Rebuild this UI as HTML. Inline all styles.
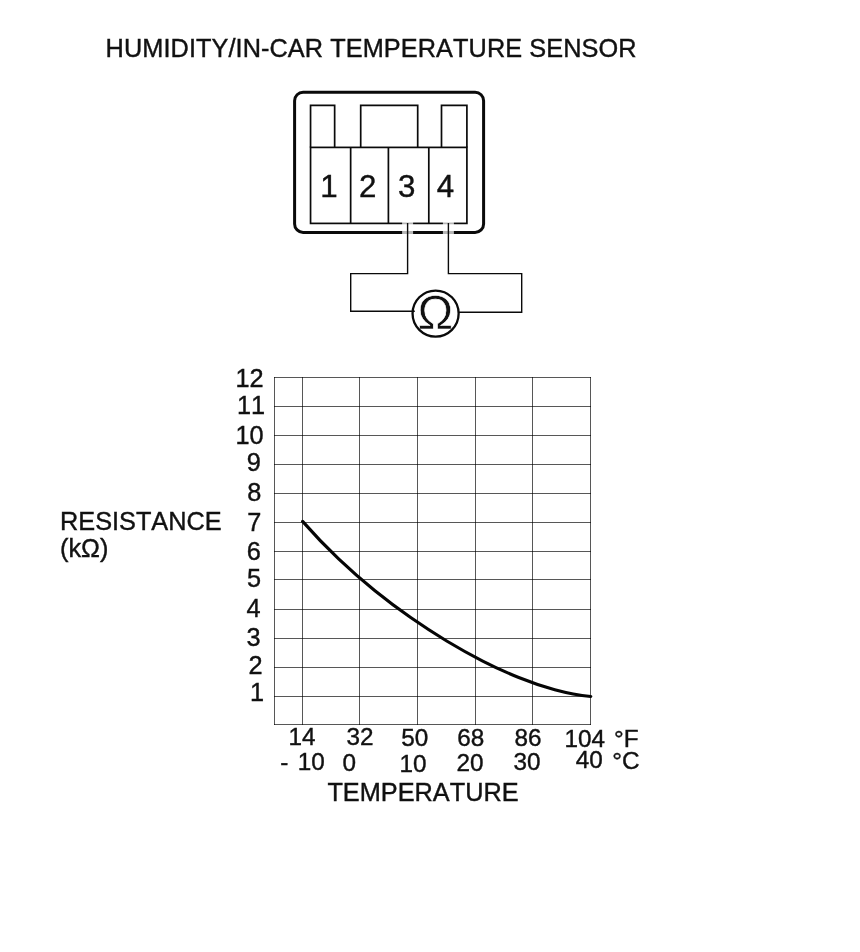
<!DOCTYPE html>
<html lang="en">
<head>
<meta charset="utf-8">
<title>Humidity/In-Car Temperature Sensor</title>
<style>
html,body{margin:0;padding:0;background:#fff;}
body{width:860px;height:952px;overflow:hidden;}
svg{display:block;}
text{font-family:"Liberation Sans",sans-serif;fill:#111;stroke:#111;stroke-width:0.4px;font-kerning:none;font-variant-ligatures:none;}
.t{font-size:25.3px;}
.g line{stroke:#000;stroke-opacity:0.66;stroke-width:1;}
</style>
</head>
<body>
<svg width="860" height="952" viewBox="0 0 860 952">
<rect width="860" height="952" fill="#fff"/>

<!-- Title -->
<text class="t" x="105.6" y="56.7" style="letter-spacing:0.075px">HUMIDITY/IN-CAR TEMPERATURE SENSOR</text>

<!-- Connector -->
<g fill="none" stroke="#0a0a0a">
  <rect x="294.6" y="92.3" width="189" height="140.1" rx="8.5" ry="8.5" stroke-width="3"/>
  <g stroke-width="1.7">
    <!-- tabs -->
    <path d="M310.55 147.4V105.4H334.65V147.4"/>
    <path d="M360.7 147.4V105.4H417.7V147.4"/>
    <path d="M441.5 147.4V105.4H466.9V147.4"/>
    <!-- pin box -->
    <rect x="310.55" y="147.4" width="156.35" height="76"/>
    <path d="M350.65 147.4V223.4M388.4 147.4V223.4M428.8 147.4V223.4"/>
  </g>
</g>
<!-- wires with white halo -->
<g fill="none" stroke="#fff" stroke-width="11" opacity="0.7">
  <path d="M407.6 222V236"/>
  <path d="M448.4 222V236"/>
</g>
<g fill="none" stroke="#0a0a0a" stroke-width="1.4">
  <path d="M407.6 223V273.6H350.7V311.3H414.8"/>
  <path d="M448.4 223V273.6H521.7V312.2H459"/>
</g>
<text transform="translate(435.5 329.1) scale(1.01 1)" x="0" y="0" text-anchor="middle" style="font-size:47.4px;stroke:#fff;stroke-width:0.6px;">Ω</text>
<circle cx="435.6" cy="313.6" r="23.05" fill="none" stroke="#0a0a0a" stroke-width="2.3"/>

<!-- pin numbers -->
<g style="font-size:31.3px;">
<text x="320.3" y="196.6">1</text>
<text x="359" y="196.6">2</text>
<text x="398" y="196.6">3</text>
<text x="436.7" y="196.6">4</text>
</g>

<!-- Grid -->
<g class="g">
  <line x1="274.5" y1="377" x2="274.5" y2="725"/>
  <line x1="302.5" y1="377" x2="302.5" y2="725"/>
  <line x1="359.5" y1="377" x2="359.5" y2="725"/>
  <line x1="417.5" y1="377" x2="417.5" y2="725"/>
  <line x1="475.5" y1="377" x2="475.5" y2="725"/>
  <line x1="532.5" y1="377" x2="532.5" y2="725"/>
  <line x1="590.5" y1="377" x2="590.5" y2="725"/>
  <line x1="274" y1="377.5" x2="591" y2="377.5"/>
  <line x1="274" y1="406.5" x2="591" y2="406.5"/>
  <line x1="274" y1="435.5" x2="591" y2="435.5"/>
  <line x1="274" y1="464.5" x2="591" y2="464.5"/>
  <line x1="274" y1="493.5" x2="591" y2="493.5"/>
  <line x1="274" y1="522.5" x2="591" y2="522.5"/>
  <line x1="274" y1="551.5" x2="591" y2="551.5"/>
  <line x1="274" y1="579.5" x2="591" y2="579.5"/>
  <line x1="274" y1="609.5" x2="591" y2="609.5"/>
  <line x1="274" y1="638.5" x2="591" y2="638.5"/>
  <line x1="274" y1="667.5" x2="591" y2="667.5"/>
  <line x1="274" y1="696.5" x2="591" y2="696.5"/>
  <line x1="274" y1="724.5" x2="591" y2="724.5"/>
</g>

<!-- Curve -->
<path id="curve" fill="none" stroke="#050505" stroke-width="3.1" stroke-linecap="round" d="M302.60 521.39C314.61 535.09 326.62 547.49 338.62 558.91C350.63 570.34 362.64 580.79 374.65 590.50C386.66 600.21 398.67 609.19 410.68 617.56C422.68 625.94 434.69 633.72 446.70 640.96C458.71 648.20 470.72 654.89 482.72 661.02C494.73 667.14 506.74 672.69 518.75 677.54C530.76 682.39 542.77 686.54 554.77 689.78C566.78 693.02 578.79 695.36 590.80 696.48"/>

<!-- Y labels -->
<g class="t" text-anchor="end">
<text x="263.7" y="386.9">12</text>
<text x="265.2" y="413.8">11</text>
<text x="263.7" y="443.8">10</text>
<text x="260.8" y="471.2">9</text>
<text x="261.4" y="500.7">8</text>
<text x="261.3" y="531.2">7</text>
<text x="260.9" y="559.8">6</text>
<text x="261.1" y="587.3">5</text>
<text x="260.5" y="616.9">4</text>
<text x="260.6" y="646.1">3</text>
<text x="262.5" y="673.9">2</text>
<text x="264" y="701.1">1</text>
</g>

<text class="t" x="60" y="529.5">RESISTANCE</text>
<text class="t" x="60" y="556.6">(kΩ)</text>

<!-- X labels -->
<g style="font-size:24.3px;">
<text x="288.5" y="744.6">14</text>
<text x="346.4" y="744.5">32</text>
<text x="401.2" y="746.4">50</text>
<text x="457.3" y="746.4">68</text>
<text x="514.4" y="746.4">86</text>
<text x="564.6" y="746.6">104</text>
<text x="614" y="746.6">°F</text>
<text x="280.3" y="769.7">-</text>
<text x="297.7" y="769.6">10</text>
<text x="342.4" y="770.6">0</text>
<text x="399.6" y="771.7">10</text>
<text x="456.4" y="770.5">20</text>
<text x="513.5" y="769.7">30</text>
<text x="575.8" y="768.2">40</text>
<text x="612.2" y="768.5">°C</text>
</g>
<text class="t" x="327.4" y="800.6">TEMPERATURE</text>
</svg>
</body>
</html>
